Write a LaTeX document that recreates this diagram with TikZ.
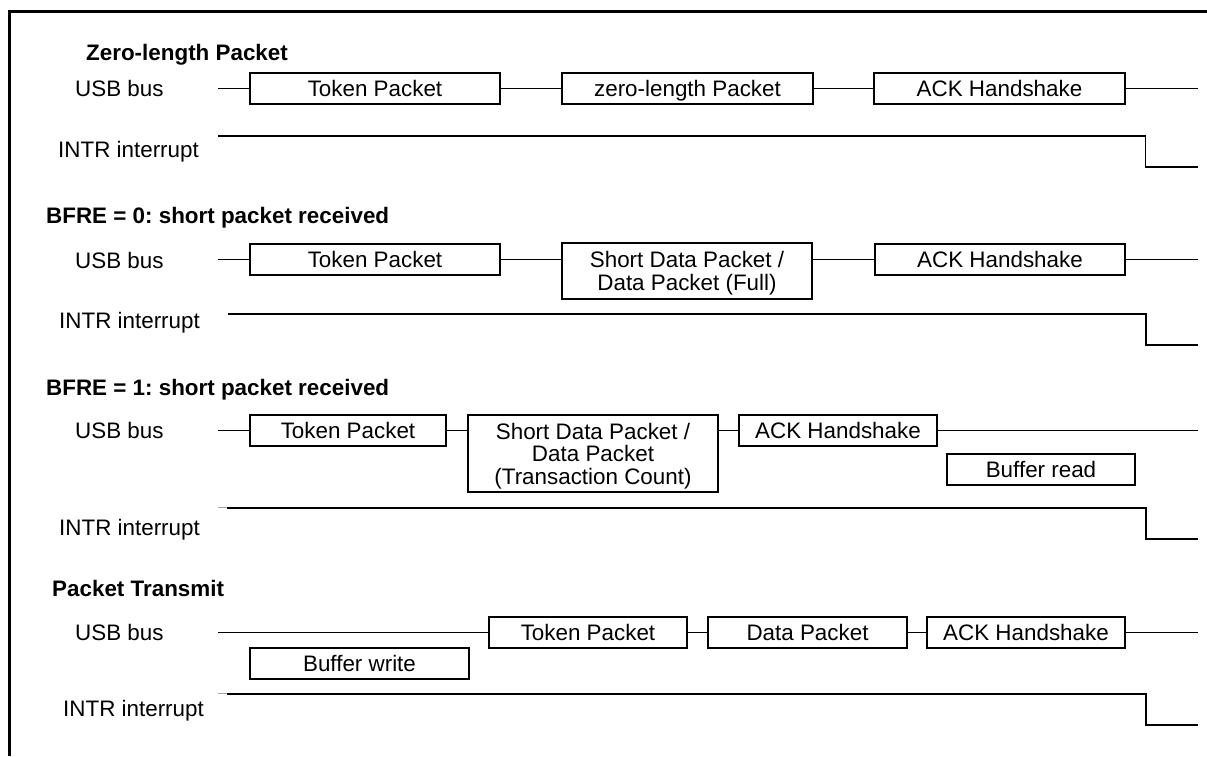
\documentclass[tikz,border=0pt]{standalone}
\usepackage{fontspec}
\setmainfont{Liberation Sans}
\frenchspacing
\begin{document}
\begin{tikzpicture}[x=1pt,y=-1pt,
  every node/.style={font=\fontsize{22.4}{22.5}\selectfont, inner sep=0pt},
  pkt/.style={draw, line width=1.5pt, minimum height=31pt, text height=16pt, text depth=0pt, align=center},
  lbl/.style={anchor=base west},
  ttl/.style={anchor=base west, font=\fontsize{22.4}{22.5}\selectfont\bfseries},
  sig/.style={line width=1.5pt},
  stub/.style={line width=1pt, black!35},
]
\useasboundingbox (0,0) rectangle (1207,756);
\draw[line width=2.2pt] (9.5,756) -- (9.5,11.5) -- (1207,11.5);

% ---------- Section 1 ----------
\node[ttl] (ttl1) at (86,60) {Zero-length Packet};
\node[lbl] (usb1) at (75,96) {USB bus};
\node[lbl] (int1) at (58,157) {INTR interrupt};
\node[pkt, minimum width=250pt] (t1) at (375,88.5) {Token Packet};
\node[pkt, minimum width=251pt] (z1) at (687.5,88.5) {zero-length Packet};
\node[pkt, minimum width=251pt] (a1) at (999.5,88.5) {ACK Handshake};
\coordinate (b1s) at (218,88.5);
\coordinate (b1e) at (1198,88.5);
\draw[sig] (b1s) -- (t1.west);
\draw[sig] (t1.east) -- (z1.west);
\draw[sig] (z1.east) -- (a1.west);
\draw[sig] (a1.east) -- (b1e);
\coordinate (i1s) at (218,136);
\coordinate (i1k) at (1145.5,136);
\coordinate (i1e) at (1198,167);
\draw[sig] (i1s) -- (i1k) |- (i1e);

% ---------- Section 2 ----------
\node[ttl] (ttl2) at (46,223) {BFRE = 0: short packet received};
\node[lbl] (usb2) at (75,268) {USB bus};
\node[lbl] (int2) at (59,328) {INTR interrupt};
\node[pkt, minimum width=250pt] (t2) at (375,259.5) {Token Packet};
\node[pkt, minimum width=250pt, minimum height=56pt, text height=38.5pt, text depth=0pt] (s2) at (687,271)
  {Short Data Packet /\\Data Packet (Full)};
\node[pkt, minimum width=250pt] (a2) at (1000,259.5) {ACK Handshake};
\coordinate (b2s) at (218,259.5);
\coordinate (b2e) at (1198,259.5);
\draw[sig] (b2s) -- (t2.west);
\draw[sig] (t2.east) -- (t2.east -| s2.west);
\draw[sig] (a2.west -| s2.east) -- (a2.west);
\draw[sig] (a2.east) -- (b2e);
\coordinate (i2s) at (228,314);
\coordinate (i2k) at (1146,314);
\coordinate (i2e) at (1198,345);
\draw[sig] (i2s) -- (i2k) |- (i2e);

% ---------- Section 3 ----------
\node[ttl] (ttl3) at (46,395) {BFRE = 1: short packet received};
\node[lbl] (usb3) at (75,438) {USB bus};
\node[lbl] (int3) at (59,535) {INTR interrupt};
\node[pkt, minimum width=196pt] (t3) at (348,430.5) {Token Packet};
\node[pkt, minimum width=250pt, minimum height=77pt, text height=61pt, text depth=0pt] (s3) at (593,453.5)
  {Short Data Packet /\\Data Packet\\(Transaction Count)};
\node[pkt, minimum width=198pt] (a3) at (838,430.5) {ACK Handshake};
\node[pkt, minimum width=188pt] (r3) at (1041,469.5) {Buffer read};
\coordinate (b3s) at (218,430.5);
\coordinate (b3e) at (1198,430.5);
\draw[sig] (b3s) -- (t3.west);
\draw[sig] (t3.east) -- (t3.east -| s3.west);
\draw[sig] (a3.west -| s3.east) -- (a3.west);
\draw[sig] (a3.east) -- (b3e);
\coordinate (i3g) at (218,507.5);
\coordinate (i3s) at (227,508);
\coordinate (i3k) at (1146,508);
\coordinate (i3e) at (1198,539);
\draw[stub] (i3g) -- (i3g -| i3s);
\draw[sig] (i3s) -- (i3k) |- (i3e);

% ---------- Section 4 ----------
\node[ttl] (ttl4) at (52,596) {Packet Transmit};
\node[lbl] (usb4) at (75,640) {USB bus};
\node[lbl] (int4) at (63,716) {INTR interrupt};
\node[pkt, minimum width=198pt] (t4) at (588,632.5) {Token Packet};
\node[pkt, minimum width=199pt] (d4) at (807.5,632.5) {Data Packet};
\node[pkt, minimum width=198pt] (a4) at (1026,632.5) {ACK Handshake};
\node[pkt, minimum width=219pt] (w4) at (359.5,663.5) {Buffer write};
\coordinate (b4s) at (218,632.5);
\coordinate (b4e) at (1198,632.5);
\draw[sig] (b4s) -- (t4.west);
\draw[sig] (t4.east) -- (d4.west);
\draw[sig] (d4.east) -- (a4.west);
\draw[sig] (a4.east) -- (b4e);
\coordinate (i4g) at (218,693.5);
\coordinate (i4s) at (227,694);
\coordinate (i4k) at (1146,694);
\coordinate (i4e) at (1198,725);
\draw[stub] (i4g) -- (i4g -| i4s);
\draw[sig] (i4s) -- (i4k) |- (i4e);
\end{tikzpicture}
\end{document}
